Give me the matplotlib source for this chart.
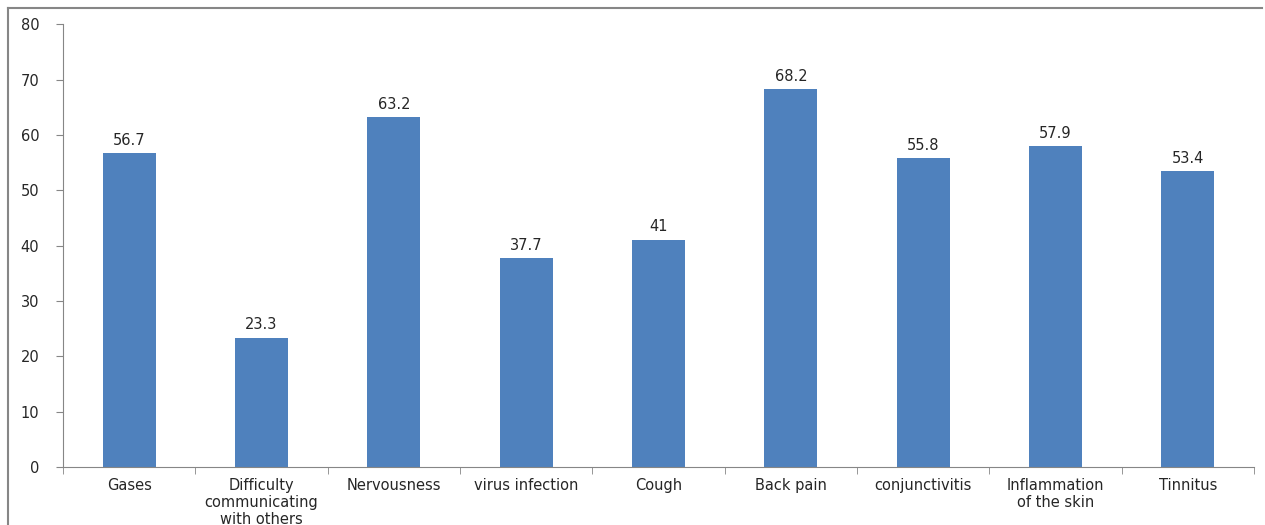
import numpy as np
import matplotlib.pyplot as plt
from matplotlib.lines import Line2D

#%% datos
categorias = ["Gases", "Difficulty\ncommunicating\nwith others", "Nervousness",
              "virus infection", "Cough", "Back pain", "conjunctivitis",
              "Inflammation\nof the skin", "Tinnitus"]
valores = [56.7, 23.3, 63.2, 37.7, 41, 68.2, 55.8, 57.9, 53.4]
etiquetas = ["56.7", "23.3", "63.2", "37.7", "41", "68.2", "55.8", "57.9", "53.4"]
yticks = [0, 10, 20, 30, 40, 50, 60, 70, 80]

#%% grafica
gris = '#868686'
texto = '#262626'
plt.rcParams['font.family'] = ['DejaVu Sans']

fig = plt.figure(figsize=(12.65, 5.25), dpi=100)
ax = fig.add_axes([0.0498, 0.1105, 0.9415, 0.8435])

x = np.arange(len(categorias))
barras = ax.bar(x, valores, width=0.4, color='#4F81BD')

for b, t in zip(barras, etiquetas):
    ax.annotate(t, (b.get_x() + b.get_width() / 2, b.get_height()),
                xytext=(0, 4), textcoords='offset points',
                ha='center', va='bottom', fontsize=10.5, color=texto)

ax.set_xlim(-0.5, len(categorias) - 0.5)
ax.set_ylim(0, 80)
ax.set_yticks(yticks)
ax.set_xticks(x)
ax.set_xticklabels(categorias, fontsize=10.5, color=texto, linespacing=1.15)
ax.set_xticks(np.arange(-0.5, len(categorias)), minor=True)
ax.tick_params(axis='x', which='major', length=0, pad=8)
ax.tick_params(axis='x', which='minor', length=5, color=gris)
ax.tick_params(axis='y', length=5, color=gris, labelsize=10.5, labelcolor=texto, pad=12)

for s in ['top', 'right']:
    ax.spines[s].set_visible(False)
for s in ['left', 'bottom']:
    ax.spines[s].set_color(gris)

# marco de la figura (solo izquierda y arriba visibles)
fig.add_artist(Line2D([8 / 1265, 8 / 1265], [0, 1 - 8 / 525], color=gris, lw=1.5))
fig.add_artist(Line2D([8 / 1265, 1262 / 1265], [1 - 8 / 525, 1 - 8 / 525], color=gris, lw=1.5))

fig.savefig('out.png', dpi=100)
